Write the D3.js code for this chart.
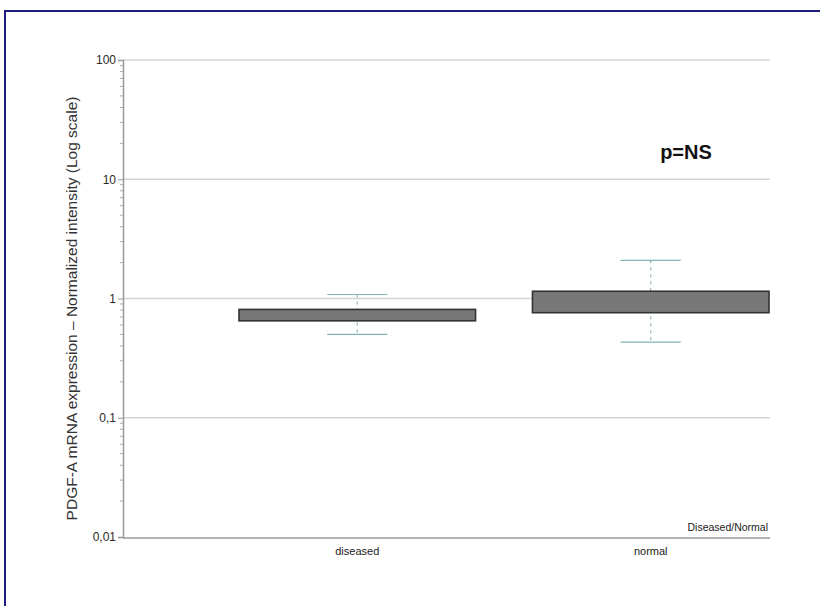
<!DOCTYPE html>
<html>
<head>
<meta charset="utf-8">
<script src="https://cdn.jsdelivr.net/npm/d3@7"></script>
<style>
  html, body { margin: 0; padding: 0; background: #fff; }
  svg { display: block; font-family: Arial, "Liberation Sans", sans-serif; }
</style>
</head>
<body>
<svg id="chart" width="820" height="606"></svg>
<script>
// Groups and box-plot statistics (normalized intensity)
const groups = ["diseased", "normal"];
const boxLow = [0.65, 0.76];
const boxHigh = [0.81, 1.15];
const whiskerLow = [0.50, 0.43];
const whiskerHigh = [1.08, 2.09];
const yTicks = [100, 10, 1, 0.1, 0.01];
const yTickLabels = ["100", "10", "1", "0,1", "0,01"];

const svg = d3.select("#chart");

// outer frame
svg.append("rect")
  .attr("x", 5).attr("y", 11)
  .attr("width", 830).attr("height", 620)
  .attr("fill", "none").attr("stroke", "#1c1c7a").attr("stroke-width", 2);

const plotLeft = 123, plotRight = 770, plotTop = 60, plotBottom = 537;

const y = d3.scaleLog().domain([0.01, 100]).range([plotBottom, plotTop]);
const x = d3.scaleBand().domain(groups).range([239, 769])
  .paddingInner(0.194).paddingOuter(0);

// grid lines at each decade
svg.append("g").selectAll("line")
  .data(yTicks.filter(v => v > 0.01))
  .join("line")
  .attr("x1", plotLeft).attr("x2", plotRight)
  .attr("y1", d => y(d)).attr("y2", d => y(d))
  .attr("stroke", "#d4d4d4").attr("stroke-width", 1.3);

// y axis with minor ticks
const minor = [];
for (let e = -2; e < 2; e++) for (let m = 2; m <= 9; m++) minor.push(m * Math.pow(10, e));
const yAxis = d3.axisLeft(y).tickValues(yTicks)
  .tickFormat((d, i) => yTickLabels[i]).tickSize(5).tickPadding(2);
const gy = svg.append("g").attr("transform", `translate(${plotLeft},0)`)
  .attr("color", "#999").call(yAxis);
gy.select(".domain").attr("stroke-width", 1.5);
gy.selectAll(".tick text").attr("fill", "#2a2a2a")
  .style("font-size", "12px").style("font-family", "Arial, 'Liberation Sans', sans-serif");
svg.append("g").selectAll("line").data(minor).join("line")
  .attr("x1", plotLeft - 3).attr("x2", plotLeft)
  .attr("y1", d => y(d)).attr("y2", d => y(d))
  .attr("stroke", "#aaa");

// x axis baseline
svg.append("line")
  .attr("x1", plotLeft).attr("x2", plotRight)
  .attr("y1", plotBottom + 1).attr("y2", plotBottom + 1)
  .attr("stroke", "#999").attr("stroke-width", 1.5);

const xAxis = d3.axisBottom(x).tickSize(0).tickPadding(9);
const gx = svg.append("g").attr("transform", `translate(0,${plotBottom + 1})`)
  .attr("color", "#999").call(xAxis);
gx.select(".domain").remove();
gx.selectAll(".tick text").attr("fill", "#1a1a1a")
  .style("font-size", "11px").style("font-family", "Arial, 'Liberation Sans', sans-serif");

// whiskers
const wg = svg.append("g");
groups.forEach((g, i) => {
  const cx = x(g) + x.bandwidth() / 2;
  wg.append("line")
    .attr("x1", cx).attr("x2", cx)
    .attr("y1", y(whiskerHigh[i])).attr("y2", y(whiskerLow[i]))
    .attr("stroke", "#9ab8b8").attr("stroke-width", 1.3).attr("stroke-dasharray", "3,4");
  [whiskerHigh[i], whiskerLow[i]].forEach(v => {
    wg.append("line")
      .attr("x1", cx - 30).attr("x2", cx + 30)
      .attr("y1", y(v)).attr("y2", y(v))
      .attr("stroke", "#7fb5b5").attr("stroke-width", 1.2);
  });
});

// boxes
svg.append("g").selectAll("rect")
  .data(groups)
  .join("rect")
  .attr("x", d => x(d))
  .attr("width", x.bandwidth())
  .attr("y", (d, i) => y(boxHigh[i]))
  .attr("height", (d, i) => y(boxLow[i]) - y(boxHigh[i]))
  .attr("fill", "#787878")
  .attr("stroke", "#333").attr("stroke-width", 1.6);

// axis title
svg.append("text")
  .attr("transform", `translate(77,${(95 + 522) / 2}) rotate(-90)`)
  .attr("text-anchor", "middle")
  .attr("fill", "#333")
  .style("font-size", "15.5px")
  .text("PDGF-A mRNA expression \u2013 Normalized intensity (Log scale)");

// significance annotation
svg.append("text")
  .attr("x", 686).attr("y", 159)
  .attr("text-anchor", "middle")
  .attr("fill", "#111")
  .style("font-size", "20px").style("font-weight", "bold")
  .text("p=NS");

// comparison label
svg.append("text")
  .attr("x", 768).attr("y", 531)
  .attr("text-anchor", "end")
  .attr("fill", "#222")
  .style("font-size", "10.5px")
  .text("Diseased/Normal");
</script>
</body>
</html>
